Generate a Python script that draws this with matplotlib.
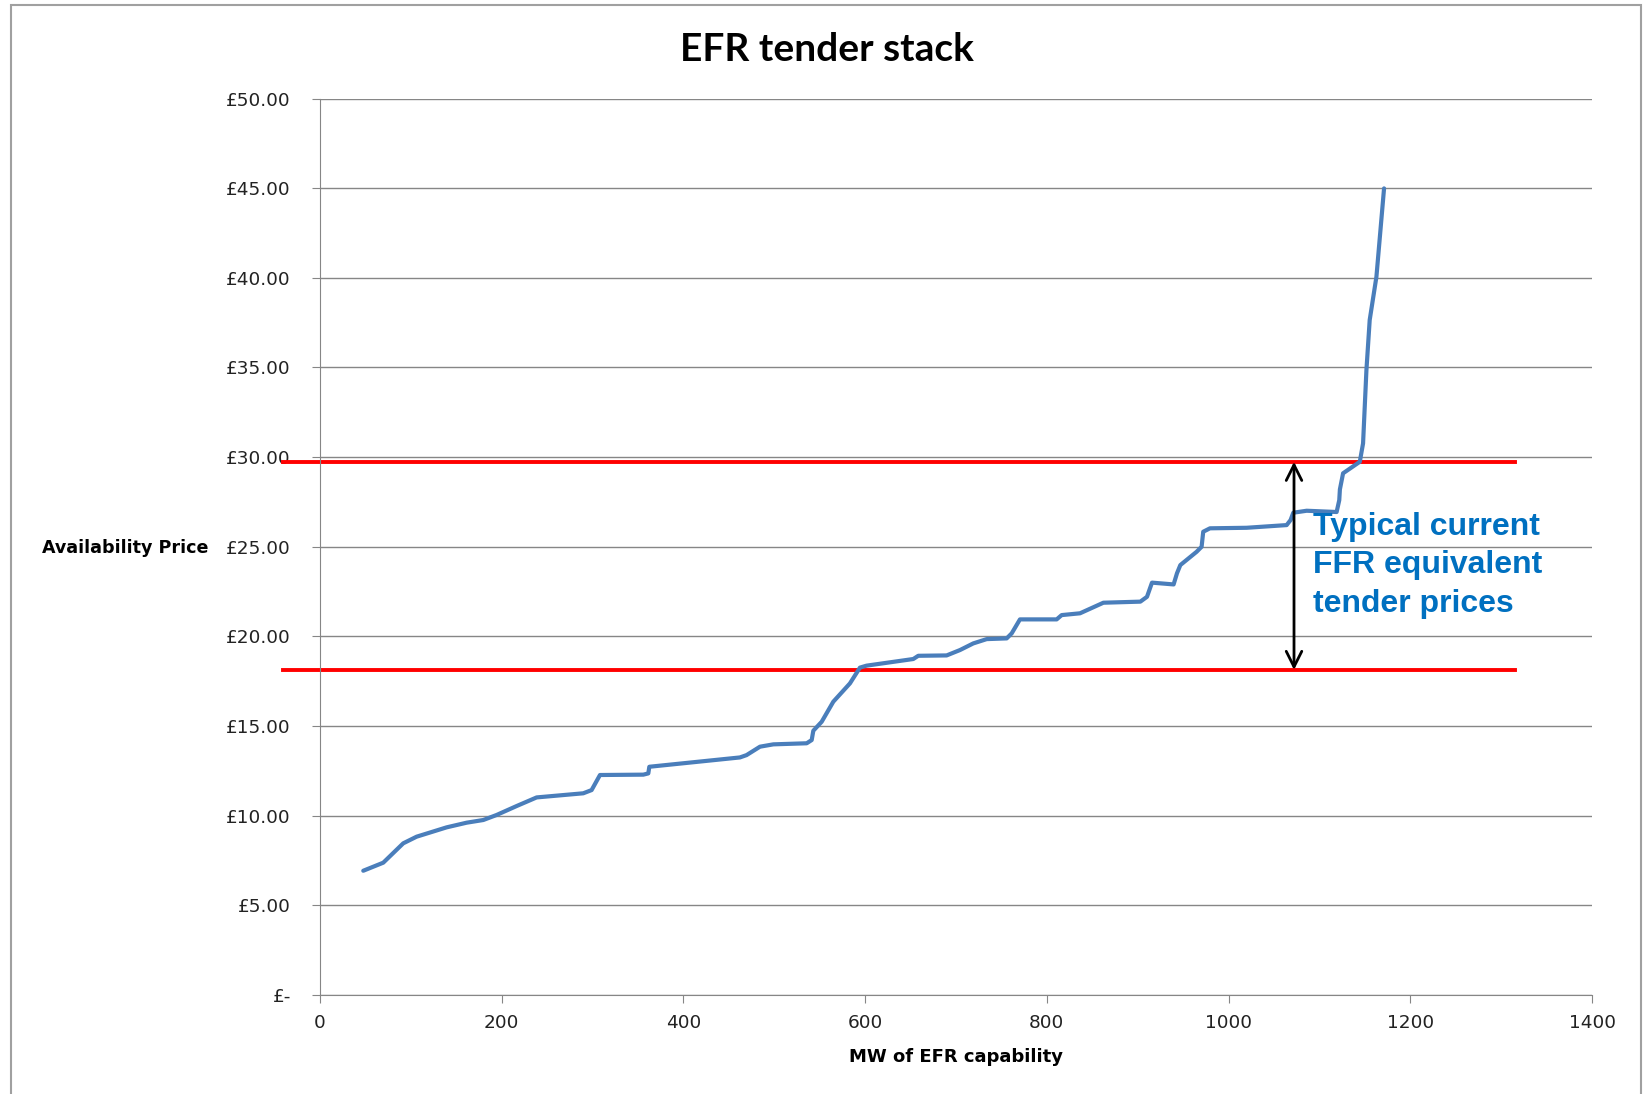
import matplotlib.pyplot as plt
from matplotlib.patches import Rectangle

# tender stack (MW, £/MW/h)
mw = [47.7, 69.7, 91.7, 106.4, 139.4, 161.4, 179.8, 194.4, 216.5, 238.5,
      289.8, 299.0, 308.2, 355.9, 361.4, 362.5, 462.2, 469.5, 484.3, 499.0,
      535.7, 541.2, 543.0, 552.2, 565.0, 583.3, 594.3, 601.6, 653.0, 658.5,
      689.7, 704.4, 719.0, 733.8, 755.8, 761.3, 770.4, 810.8, 816.3, 836.5,
      862.2, 902.9, 910.2, 915.7, 939.5, 943.2, 946.9, 964.8, 970.3, 972.1,
      979.5, 1019.8, 1063.9, 1068.2, 1071.2, 1085.9, 1118.9, 1121.8, 1122.5, 1126.0,
      1144.4, 1148.0, 1151.7, 1155.3, 1162.7, 1171.1]
price = [6.93, 7.38, 8.46, 8.83, 9.35, 9.61, 9.76, 10.04, 10.54, 11.02,
         11.25, 11.43, 12.27, 12.29, 12.36, 12.73, 13.25, 13.38, 13.85, 13.98,
         14.04, 14.22, 14.74, 15.24, 16.36, 17.38, 18.26, 18.37, 18.74, 18.92,
         18.94, 19.24, 19.61, 19.85, 19.89, 20.17, 20.95, 20.95, 21.19, 21.29,
         21.88, 21.94, 22.21, 23.00, 22.90, 23.52, 23.98, 24.72, 25.00, 25.84,
         26.03, 26.06, 26.21, 26.49, 26.90, 27.01, 26.94, 27.60, 28.20, 29.10,
         29.74, 30.77, 34.86, 37.65, 40.06, 44.99]

ffr_low = 18.13
ffr_high = 29.74
ffr_line_x = [-41, 1315]
arrow_x = 1072

yticks = [0, 5, 10, 15, 20, 25, 30, 35, 40, 45, 50]
ytick_labels = ['£-', '£5.00', '£10.00', '£15.00', '£20.00', '£25.00',
                '£30.00', '£35.00', '£40.00', '£45.00', '£50.00']
xticks = [0, 200, 400, 600, 800, 1000, 1200, 1400]

grey = '#868686'

fig = plt.figure(figsize=(16.44, 10.94), dpi=100)
ax = fig.add_axes([0.1946, 0.0905, 0.7738, 0.8194])

ax.set_xlim(0, 1400)
ax.set_ylim(0, 50)
ax.set_yticks(yticks)
ax.set_yticklabels(ytick_labels)
ax.set_xticks(xticks)
ax.grid(axis='y', color=grey, lw=1)
ax.set_axisbelow(True)
for s in ['top', 'right']:
    ax.spines[s].set_visible(False)
for s in ['left', 'bottom']:
    ax.spines[s].set_color(grey)
ax.tick_params(axis='y', length=6, color=grey, pad=15, labelsize=13.3, labelcolor='#222222')
ax.tick_params(axis='x', length=6, color=grey, pad=8, labelsize=13.3, labelcolor='#222222')

ax.plot(mw, price, color='#4A7EBB', lw=3, solid_joinstyle='round',
        solid_capstyle='round', zorder=3)

# FFR price band
for yv in [ffr_low, ffr_high]:
    ax.plot(ffr_line_x, [yv, yv], color='#FF0000', lw=2.8, clip_on=False, zorder=2)
ax.annotate('', xy=(arrow_x, ffr_high), xytext=(arrow_x, ffr_low),
            arrowprops=dict(arrowstyle='<->', color='black', lw=2,
                            mutation_scale=28, shrinkA=0, shrinkB=0), zorder=4)
ax.text(1093, 26.95, 'Typical current\nFFR equivalent\ntender prices',
        color='#0070C0', fontsize=23, fontweight='bold', family='Liberation Sans',
        va='top', ha='left', linespacing=1.37, zorder=5)

fig.text(0.5027, 0.955, 'EFR tender stack', ha='center', va='center',
         fontsize=28, fontweight='bold', family='Lato')
fig.text(0.5818, 0.034, 'MW of EFR capability', ha='center', va='center',
         fontsize=13, fontweight='bold')
fig.text(0.0255, 0.499, 'Availability Price', ha='left', va='center',
         fontsize=12.6, fontweight='bold')

fig.patches.append(Rectangle((0.0064, -0.02), 0.9915, 1.015, transform=fig.transFigure,
                             fill=False, edgecolor='#A0A0A0', lw=1.5))

fig.savefig('out.png', dpi=100)
